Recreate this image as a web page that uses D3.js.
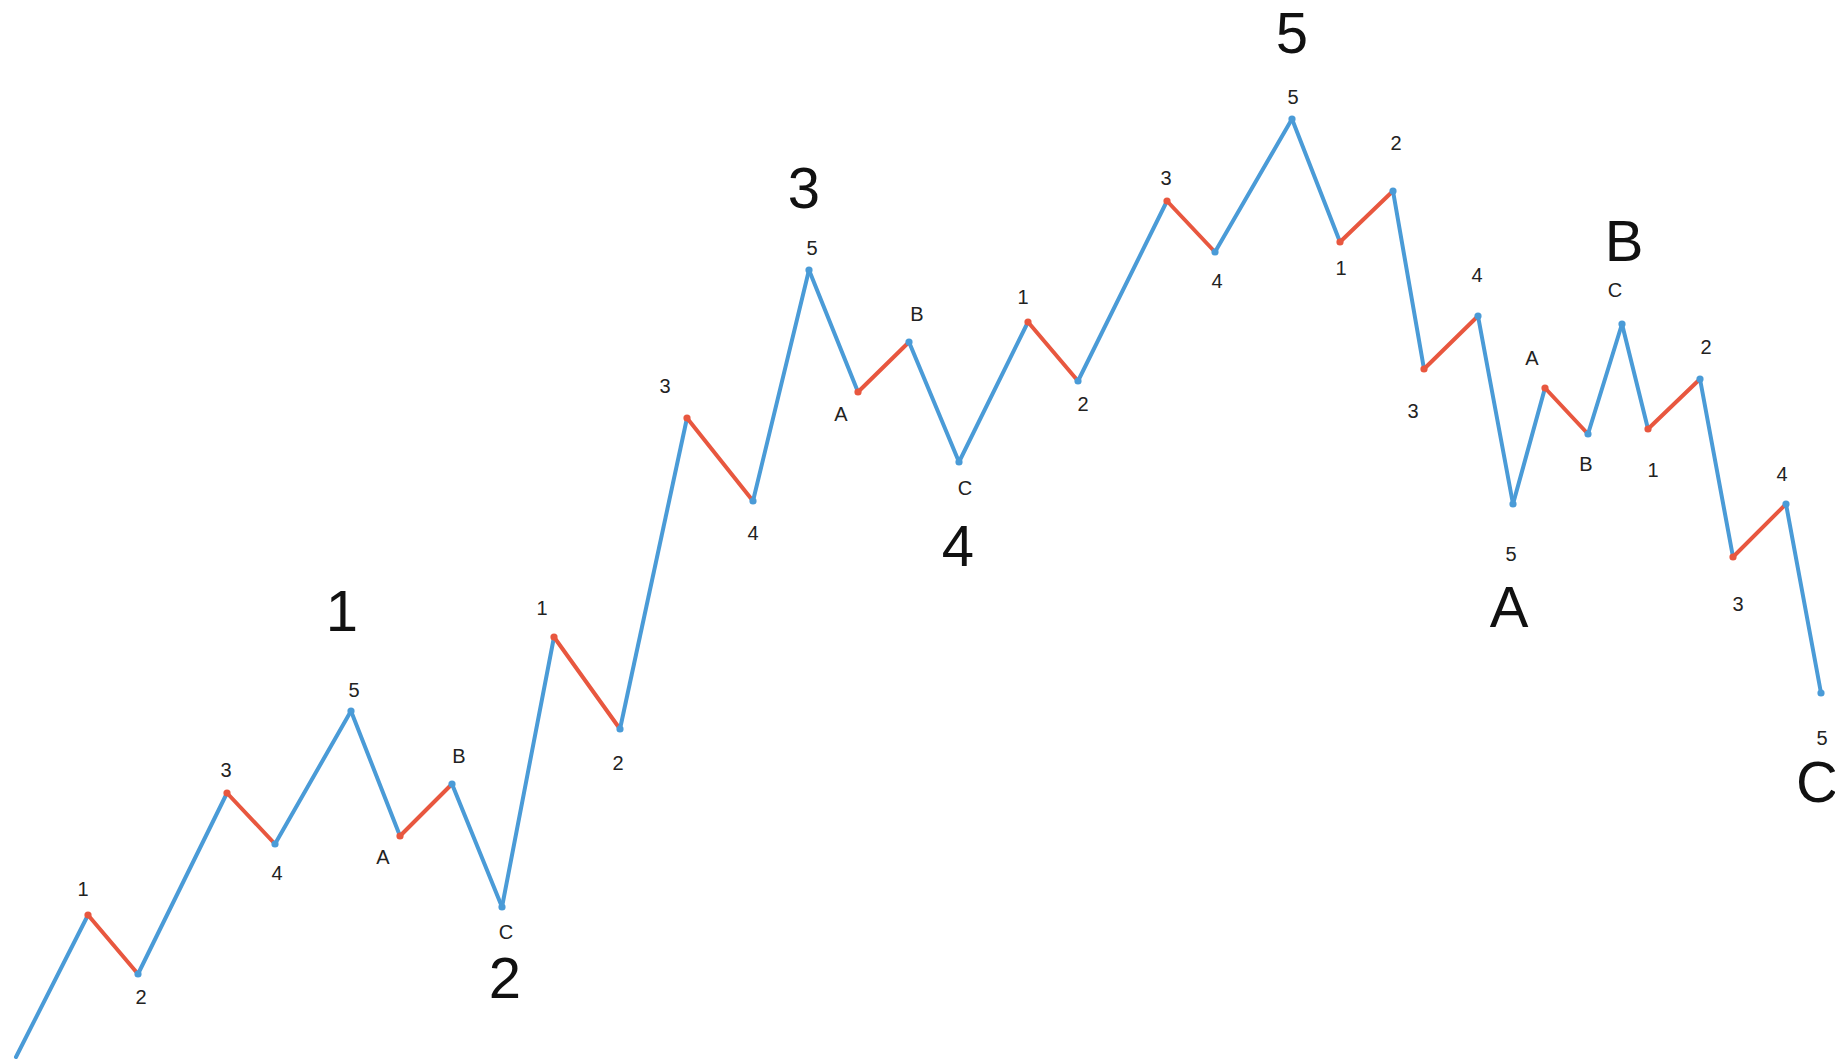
<!DOCTYPE html>
<html>
<head>
<meta charset="utf-8">
<script src="https://cdn.jsdelivr.net/npm/d3@7/dist/d3.min.js"></script>
<style>
html,body{margin:0;padding:0;background:#fff;overflow:hidden;}
svg{display:block;}
</style>
</head>
<body>
<svg id="chart" width="1835" height="1059"></svg>
<script>
// ---- data (time units, price units) ----
const times  = [1.6, 8.8, 13.8, 22.7, 27.5, 35.1, 40.0, 45.2, 50.2, 55.4, 62.0, 68.7, 75.3, 80.9, 85.8, 90.9, 95.9, 102.8, 107.8, 116.7, 121.5, 129.2, 134.0, 139.3, 142.4, 147.8, 151.3, 154.5, 158.8, 162.2, 164.8, 170.0, 173.3, 178.6, 182.1];
const prices = [0.2, 14.4, 8.5, 26.6, 21.5, 34.8, 22.3, 27.5, 15.2, 42.2, 33.0, 64.1, 55.8, 78.9, 66.7, 71.7, 59.7, 73.7, 67.8, 85.8, 80.7, 94.0, 81.7, 86.8, 69.0, 74.3, 55.5, 67.1, 62.5, 73.5, 63.0, 68.0, 50.2, 55.5, 36.6];
const subLabels = ["", "1","2","3","4","5","A","B","C","1","2","3","4","5","A","B","C","1","2","3","4","5","1","2","3","4","5","A","B","C","1","2","3","4","5"];
const majorLabels = ["1","2","3","4","5","A","B","C"];
const majorAt     = [5, 8, 13, 16, 21, 26, 29, 34];
const redStarts   = ["1","3","A"];

// ---- layout (label nudges in px, not data) ----
const subNudge = [[0,0],[-5,-26],[3,23],[-1,-23],[2,29],[3,-21],[-17,21],[7,-28],[4,25],[-12,-29],[-2,34],[-22,-32],[0,32],[3,-22],[-17,22],[8,-28],[6,26],[-5,-25],[5,23],[-1,-23],[2,29],[1,-22],[1,26],[3,-48],[-11,42],[-1,-41],[-2,50],[-13,-30],[-2,30],[-7,-34],[5,41],[6,-32],[5,47],[-4,-30],[1,45]];
const majorNudge = [[-9,-101],[3,70],[-5,-83],[-1,83],[0,-87],[-4,102],[2,-84],[-4,88]];

const W = 1835, H = 1059;
const blue = "#4a9bd7", red = "#e8573f";

const x = d3.scaleLinear().domain([0, 183.5]).range([0, W]);
const y = d3.scaleLinear().domain([0, 105.9]).range([H, 0]);

const pts = times.map((t, i) => ({t, p: prices[i], label: subLabels[i], i}));
const segs = d3.pairs(pts).map(([a, b]) => ({a, b, red: redStarts.includes(a.label)}));

const svg = d3.select("#chart");

svg.append("g").selectAll("line").data(segs).join("line")
  .attr("x1", d => x(d.a.t)).attr("y1", d => y(d.a.p))
  .attr("x2", d => x(d.b.t)).attr("y2", d => y(d.b.p))
  .attr("stroke", d => d.red ? red : blue)
  .attr("stroke-width", 4)
  .attr("stroke-linecap", "round");

svg.append("g").selectAll("circle").data(pts.slice(1)).join("circle")
  .attr("cx", d => x(d.t)).attr("cy", d => y(d.p))
  .attr("r", 3.6)
  .attr("fill", d => redStarts.includes(d.label) && d.i < pts.length - 1 ? red : blue);

svg.append("g").selectAll("text").data(pts.filter(d => d.label)).join("text")
  .attr("x", d => x(d.t) + subNudge[d.i][0])
  .attr("y", d => y(d.p) + subNudge[d.i][1])
  .attr("text-anchor", "middle")
  .attr("dominant-baseline", "central")
  .attr("font-family", "Liberation Sans, Arial, sans-serif")
  .attr("font-size", 20)
  .attr("fill", "#222")
  .text(d => d.label);

svg.append("g").selectAll("text").data(majorLabels).join("text")
  .attr("x", (d, k) => x(times[majorAt[k]]) + majorNudge[k][0])
  .attr("y", (d, k) => y(prices[majorAt[k]]) + majorNudge[k][1])
  .attr("text-anchor", "middle")
  .attr("dominant-baseline", "central")
  .attr("font-family", "Liberation Sans, Arial, sans-serif")
  .attr("font-size", 58)
  .attr("fill", "#111")
  .text(d => d);
</script>
</body>
</html>
